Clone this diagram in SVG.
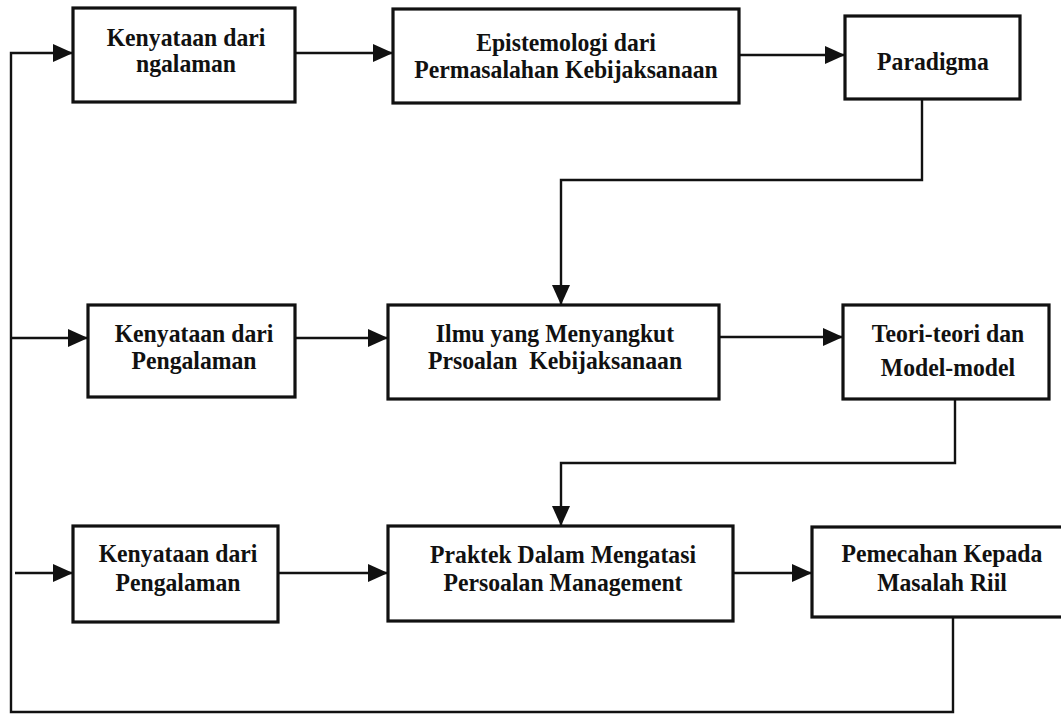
<svg xmlns="http://www.w3.org/2000/svg" width="1061" height="715" viewBox="0 0 1061 715">
  <style>
    .box { fill: #ffffff; stroke: #111111; stroke-width: 3.2; }
    .lbl { font-family: "Liberation Serif", "Times New Roman", serif; font-weight: bold; font-size: 25.5px; fill: #111111; text-anchor: middle; }
    .wire { fill: none; stroke: #111111; stroke-width: 2.4; }
  </style>
  <defs>
    <marker id="arrow" markerUnits="userSpaceOnUse" markerWidth="20" markerHeight="18" refX="20" refY="9" orient="auto">
      <path d="M0,0 L20,9 L0,18 z" fill="#111111"/>
    </marker>
  </defs>
  <rect width="1061" height="715" fill="#ffffff"/>

  <!-- connectors -->
  <g id="connectors">
    <!-- feedback loop along the left and bottom edges -->
    <path class="wire" d="M953,617 L953,712 L11,712 L11,53 L73,53" marker-end="url(#arrow)"/>
    <path class="wire" d="M11,338 L88,338" marker-end="url(#arrow)"/>
    <path class="wire" d="M15,573 L73,573" marker-end="url(#arrow)"/>
    <!-- top row -->
    <path class="wire" d="M295,53 L393,53" marker-end="url(#arrow)"/>
    <path class="wire" d="M739,55 L845,55" marker-end="url(#arrow)"/>
    <path class="wire" d="M922,99 L922,180 L561,180 L561,305" marker-end="url(#arrow)"/>
    <!-- middle row -->
    <path class="wire" d="M295,338 L388,338" marker-end="url(#arrow)"/>
    <path class="wire" d="M719,337 L843,337" marker-end="url(#arrow)"/>
    <path class="wire" d="M955,399 L955,463 L561,463 L561,526" marker-end="url(#arrow)"/>
    <!-- bottom row -->
    <path class="wire" d="M278,573 L388,573" marker-end="url(#arrow)"/>
    <path class="wire" d="M733,573 L812,573" marker-end="url(#arrow)"/>
  </g>

  <!-- labels use a slightly narrowed serif: translate to the anchor, then squeeze horizontally -->
  <!-- top row -->
  <g id="kenyataan-1">
    <rect class="box" x="73" y="8" width="222" height="94"/>
    <text class="lbl" transform="translate(186,46) scale(0.93,1)">Kenyataan dari</text>
    <text class="lbl" transform="translate(186,72) scale(0.93,1)">ngalaman</text>
  </g>
  <g id="epistemologi">
    <rect class="box" x="393" y="9" width="346" height="94"/>
    <text class="lbl" transform="translate(566,51) scale(0.93,1)">Epistemologi dari</text>
    <text class="lbl" transform="translate(566,78) scale(0.93,1)">Permasalahan Kebijaksanaan</text>
  </g>
  <g id="paradigma">
    <rect class="box" x="845" y="16" width="175" height="83"/>
    <text class="lbl" transform="translate(933,70) scale(0.93,1)">Paradigma</text>
  </g>

  <!-- middle row -->
  <g id="kenyataan-2">
    <rect class="box" x="88" y="305" width="207" height="92"/>
    <text class="lbl" transform="translate(194,342) scale(0.93,1)">Kenyataan dari</text>
    <text class="lbl" transform="translate(194,369) scale(0.93,1)">Pengalaman</text>
  </g>
  <g id="ilmu">
    <rect class="box" x="388" y="305" width="331" height="94"/>
    <text class="lbl" transform="translate(555,342) scale(0.93,1)">Ilmu yang Menyangkut</text>
    <text class="lbl" transform="translate(555,369) scale(0.93,1)" xml:space="preserve">Prsoalan  Kebijaksanaan</text>
  </g>
  <g id="teori">
    <rect class="box" x="843" y="305" width="206" height="94"/>
    <text class="lbl" transform="translate(948,342) scale(0.93,1)">Teori-teori dan</text>
    <text class="lbl" transform="translate(948,376) scale(0.93,1)">Model-model</text>
  </g>

  <!-- bottom row -->
  <g id="kenyataan-3">
    <rect class="box" x="73" y="526" width="205" height="96"/>
    <text class="lbl" transform="translate(178,562) scale(0.93,1)">Kenyataan dari</text>
    <text class="lbl" transform="translate(178,591) scale(0.93,1)">Pengalaman</text>
  </g>
  <g id="praktek">
    <rect class="box" x="388" y="526" width="345" height="95"/>
    <text class="lbl" transform="translate(563,563) scale(0.93,1)">Praktek Dalam Mengatasi</text>
    <text class="lbl" transform="translate(563,591) scale(0.93,1)">Persoalan Management</text>
  </g>
  <g id="pemecahan">
    <rect class="box" x="812" y="527" width="262" height="90"/>
    <text class="lbl" transform="translate(942,562) scale(0.93,1)">Pemecahan Kepada</text>
    <text class="lbl" transform="translate(942,591) scale(0.93,1)">Masalah Riil</text>
  </g>
</svg>
